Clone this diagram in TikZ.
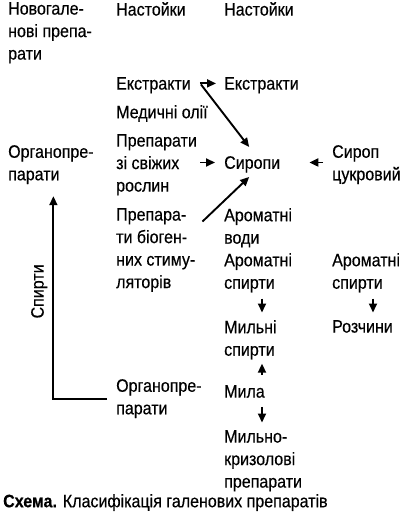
\documentclass[tikz,border=0pt]{standalone}
\usepackage{fontspec}
\setmainfont[FakeStretch=0.89,FakeBold=0.4]{Liberation Sans}
\usetikzlibrary{arrows.meta}

\begin{document}
\begin{tikzpicture}[x=1pt,y=-1pt]

\tikzstyle{line} = [draw, -{Triangle[length=9pt,width=8pt]}, line width=1.9pt]
\tikzstyle{item} = [anchor=north west, inner sep=0pt, align=left, font=\fontsize{18}{22.5}\selectfont]
\tikzstyle{word} = [item, text depth=0pt]
\tikzstyle{lab} = [inner sep=0pt, font=\fontsize{18}{22.5}\selectfont]

\useasboundingbox (0,0) rectangle (400,523);

\node [item] (newgal) at (8,2) {Новогале-\\нові препа-\\рати};
\node [word] (tinct2) at (116,2) {Настойки};
\node [word] (tinct3) at (224,2) {Настойки};

\node [word] (ext2) at (116,77) {Екстракти};
\node [word] (ext3) at (224,77) {Екстракти};
\node [item] (oil) at (116,105) {Медичні олії};
\node [item] (fresh) at (116,134) {Препарати\\зі свіжих\\рослин};
\node [word] (syr) at (224,156) {Сиропи};
\node [item] (sugar) at (332,145) {Сироп\\цукровий};
\node [item] (org1) at (8,145) {Органопре-\\парати};

\node [item] (bio) at (116,208) {Препара-\\ти біоген-\\них стиму-\\ляторів};
\node [item] (aw) at (224,208) {Ароматні\\води};
\node [item] (as3) at (224,253) {Ароматні\\спирти};
\node [item] (as4) at (332,253) {Ароматні\\спирти};
\node [item] (soap3) at (224,320) {Мильні\\спирти};
\node [word] (sol4) at (332,320) {Розчини};

\node [item] (org2) at (116,379) {Органопре-\\парати};
\node [word] (mila) at (224,385) {Мила};
\node [item] (mk) at (224,430) {Мильно-\\кризолові\\препарати};

\node [word] (caption) at (3,494) {\textbf{Схема.} Класифікація галенових препаратів};

%arrows
\path [line, shorten <=9pt, shorten >=8pt] (ext2.east) -- (ext3.west);
\path [line] ([xshift=10pt,yshift=-1pt]ext2.east) -- ([xshift=-3pt,yshift=9pt]syr.north);
\path [line, shorten <=3pt, shorten >=9pt] (fresh.east |- syr.west) -- (syr.west);
\path [line, shorten <=9pt, shorten >=29pt] (sugar.west |- syr.east) -- (syr.east);
\path [line] ([xshift=7pt,yshift=-13.5pt]bio.north east) -- ([xshift=-3pt,yshift=-8pt]syr.south);

\path [line, shorten <=6pt, shorten >=7.5pt] ([xshift=38pt]as3.south west) -- ([xshift=38pt]soap3.north west);
\path [line, shorten <=6pt, shorten >=7.5pt] ([xshift=41pt]as4.south west) -- ([xshift=41pt]sol4.north west);
\path [line, shorten <=10pt, shorten >=4pt] ([xshift=38pt]mila.north west) -- ([xshift=38pt]soap3.south west);
\path [line, shorten <=9pt, shorten >=7.5pt] ([xshift=38pt]mila.south west) -- ([xshift=38pt]mk.north west);

\path [line, shorten <=9pt, shorten >=12pt] (org2.west) -| node[lab, pos=0.75, sloped, above=5pt] {Спирти} ([xshift=2.5pt]org1.south);
\end{tikzpicture}
\end{document}
